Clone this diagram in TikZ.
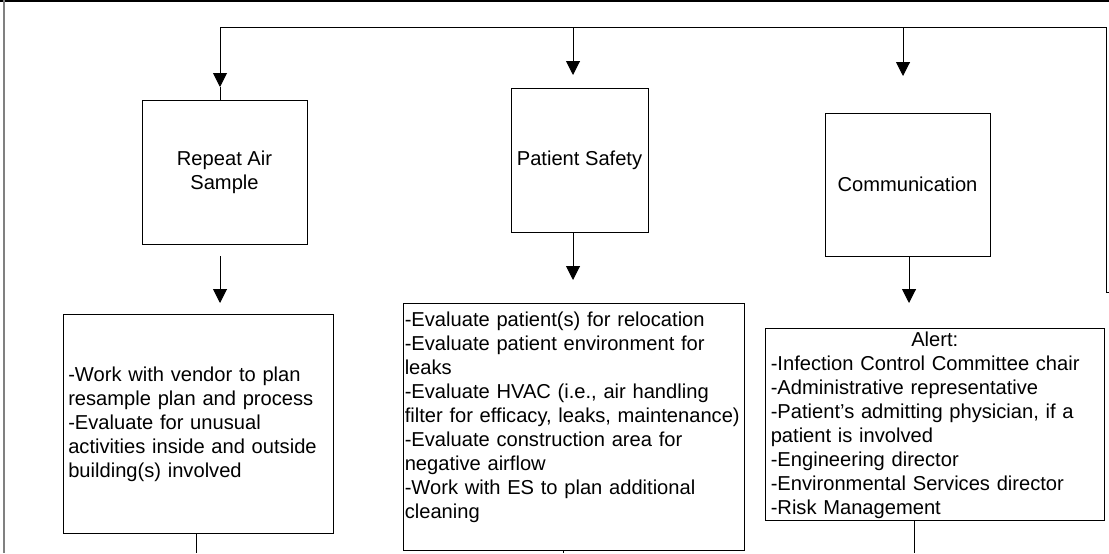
\documentclass[tikz,border=0pt]{standalone}
\usepackage{fontspec}
\setmainfont{Liberation Sans}
\usetikzlibrary{arrows.meta}
\begin{document}
\begin{tikzpicture}[x=0.75pt,y=-0.75pt,
  txt/.style={font=\fontsize{15.1pt}{18pt}\selectfont},
  box/.style={draw, line width=0.75pt, inner sep=0pt, txt, align=center},
  list/.style={txt, inner sep=0pt, anchor=base west},
  conn/.style={line width=0.75pt},
  arr/.style={conn, -{Triangle[length=10.5pt,width=10.5pt]}}]
\useasboundingbox (0,0) rectangle (1109,553);
% frame
\draw[line width=1.5pt] (0,0.75) -- (1109,0.75);
\draw[gray, line width=1.5pt] (3.5,0) -- (3.5,553);
% boxes
\node[box, minimum width=123.75pt, minimum height=108pt] (b1) at (224.5,172) {Repeat Air\\Sample};
\node[box, minimum width=102.75pt, minimum height=108pt] (b3) at (579.5,160) {Patient Safety};
\node[box, minimum width=123.75pt, minimum height=107.25pt] (b4) at (907.5,184.5) {Communication};
\node[box, minimum width=202.5pt, minimum height=164.25pt] (b2) at (198,423.5) {};
\node[box, minimum width=255.75pt, minimum height=185.25pt] (b5) at (573.5,426.5) {};
\node[box, minimum width=254.25pt, minimum height=144pt] (b6) at (934.5,424) {};
% list texts
\node[list, text width=200pt] (l2) at (68,381.5) {\raggedright -Work with vendor to plan\\resample plan and process\\-Evaluate for unusual\\activities inside and outside\\building(s) involved};
\node[list, text width=256pt] (l5) at (404.5,326) {\raggedright -Evaluate patient(s) for relocation\\-Evaluate patient environment for\\leaks\\-Evaluate HVAC (i.e., air handling\\filter for efficacy, leaks, maintenance)\\-Evaluate construction area for\\negative airflow\\-Work with ES to plan additional\\cleaning};
\node[list, text width=246pt] (l6) at (770.5,346.5) {\centering Alert:\par\raggedright -Infection Control Committee chair\\-Administrative representative\\-Patient’s admitting physician, if a\\patient is involved\\-Engineering director\\-Environmental Services director\\-Risk Management};
% top bus
\coordinate (rin) at (1109,292);
\coordinate (rc) at (1106,292);
\coordinate (tr) at (1106,27);
\coordinate (tl) at (220,27);
\coordinate (tm) at (573,27);
\coordinate (tc) at (903,27);
\coordinate (t1tip) at (220,87);
\coordinate (t2tip) at (573,75);
\coordinate (t3tip) at (903,76);
\draw[conn] (rin) -- (rc) -- (tr) -- (tl);
\draw[arr] (tl) -- (t1tip);
\draw[conn] (t1tip) -- (t1tip |- b1.north);
\draw[arr] (tm) -- (t2tip);
\draw[arr] (tc) -- (t3tip);
% second-level arrows
\coordinate (s1) at (220,256);
\coordinate (s1tip) at (220,303);
\coordinate (s2tip) at (573,280);
\coordinate (s3tip) at (909,303);
\draw[arr] (s1) -- (s1tip);
\draw[arr] (s2tip |- b3.south) -- (s2tip);
\draw[arr] (s3tip |- b4.south) -- (s3tip);
% exits at bottom
\coordinate (e1) at (196,553);
\coordinate (e2) at (563,553);
\coordinate (e3) at (914,553);
\draw[conn] (e1 |- b2.south) -- (e1);
\draw[conn] (e2 |- b5.south) -- (e2);
\draw[conn] (e3 |- b6.south) -- (e3);
\end{tikzpicture}
\end{document}
